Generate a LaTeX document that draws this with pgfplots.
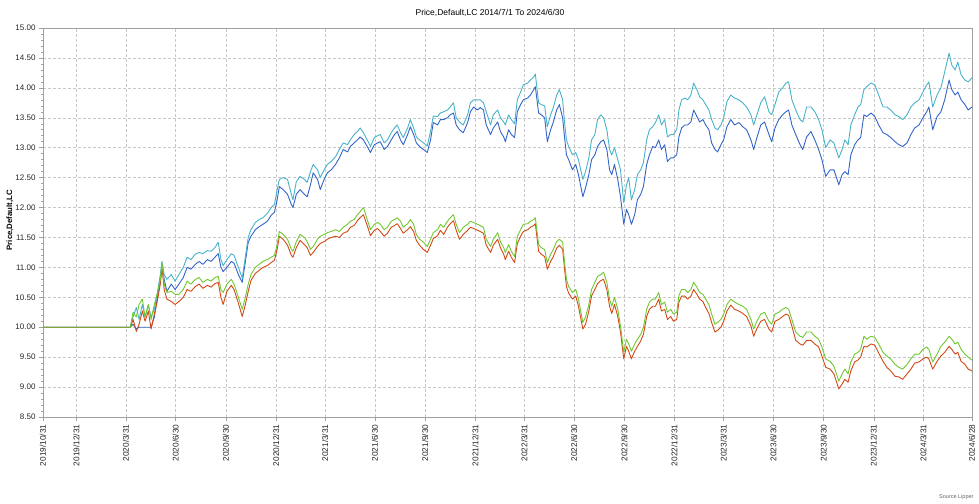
\documentclass[border=0pt]{standalone}
\usepackage{pgfplots}
\pgfplotsset{compat=1.18}
\usepackage{pgfplotstable}
\usepackage{fontspec}
\setmainfont{Liberation Sans}
\definecolor{cDB}{RGB}{50,100,200}
\definecolor{cCY}{RGB}{72,178,200}
\definecolor{cGR}{RGB}{112,200,48}
\definecolor{cRD}{RGB}{212,72,20}
\definecolor{gridc}{RGB}{200,200,200}
\definecolor{axc}{RGB}{160,160,160}

\pgfplotstableread{
day db cy gr rd
0 10.00 10.00 10.00 10.00
160 10.00 10.00 10.00 10.00
165 10.05 10.17 10.25 10.13
171 9.97 10.33 10.17 9.93
176 10.00 10.13 10.38 10.05
182 10.00 10.38 10.47 10.27
187 10.00 10.17 10.17 10.10
193 10.00 10.37 10.38 10.27
198 10.00 10.17 10.13 9.97
204 10.17 10.30 10.38 10.22
209 10.47 10.55 10.55 10.42
215 10.80 10.88 10.80 10.72
218 11.05 11.10 11.08 11.00
222 10.80 10.88 10.72 10.63
227 10.60 10.80 10.58 10.47
235 10.72 10.88 10.60 10.43
242 10.63 10.77 10.55 10.38
249 10.72 10.88 10.55 10.43
257 10.83 11.00 10.63 10.50
264 11.00 11.17 10.77 10.63
271 10.97 11.13 10.72 10.60
279 11.05 11.22 10.80 10.68
286 11.10 11.25 10.83 10.72
293 11.05 11.23 10.75 10.65
301 11.13 11.28 10.80 10.70
308 11.10 11.27 10.77 10.67
315 11.17 11.33 10.83 10.73
321 11.23 11.42 10.85 10.75
326 11.00 11.13 10.63 10.50
330 10.93 11.03 10.58 10.38
337 11.00 11.13 10.72 10.60
345 11.10 11.23 10.80 10.70
350 11.07 11.20 10.72 10.63
358 10.88 11.00 10.50 10.40
365 10.75 10.82 10.30 10.18
370 11.05 11.13 10.47 10.35
376 11.42 11.50 10.72 10.60
381 11.52 11.63 10.88 10.78
389 11.63 11.75 11.00 10.90
396 11.68 11.80 11.05 10.95
403 11.72 11.83 11.10 11.00
411 11.77 11.90 11.13 11.03
418 11.87 12.00 11.17 11.08
424 11.92 12.05 11.20 11.12
429 12.13 12.30 11.38 11.30
433 12.35 12.47 11.60 11.52
440 12.30 12.50 11.55 11.47
448 12.22 12.47 11.47 11.37
455 12.05 12.22 11.30 11.20
458 12.00 12.13 11.27 11.17
464 12.22 12.43 11.43 11.33
471 12.30 12.52 11.55 11.45
479 12.22 12.47 11.50 11.38
484 12.18 12.42 11.43 11.33
490 12.38 12.60 11.30 11.20
495 12.58 12.72 11.35 11.25
503 12.47 12.63 11.47 11.35
508 12.30 12.50 11.52 11.40
515 12.47 12.63 11.55 11.43
521 12.58 12.72 11.58 11.47
528 12.63 12.77 11.60 11.50
536 12.72 12.85 11.63 11.52
543 12.83 12.97 11.60 11.50
550 12.97 13.08 11.67 11.57
558 12.93 13.05 11.72 11.60
563 13.02 13.13 11.77 11.67
570 13.08 13.22 11.80 11.70
576 13.13 13.27 11.88 11.78
581 13.18 13.33 11.93 11.83
587 13.13 13.25 12.00 11.88
594 13.02 13.13 11.80 11.70
600 12.92 13.02 11.63 11.53
607 13.05 13.17 11.72 11.62
613 13.08 13.20 11.75 11.65
618 13.10 13.22 11.72 11.60
625 12.97 13.08 11.63 11.52
631 13.02 13.13 11.67 11.57
638 13.13 13.25 11.77 11.67
644 13.22 13.33 11.80 11.70
649 13.27 13.38 11.83 11.73
655 13.13 13.25 11.77 11.65
660 13.05 13.17 11.67 11.57
668 13.22 13.33 11.73 11.63
673 13.35 13.47 11.80 11.68
679 13.22 13.33 11.72 11.60
684 13.08 13.18 11.55 11.45
690 13.02 13.13 11.47 11.37
697 12.97 13.08 11.42 11.30
704 12.92 13.03 11.35 11.25
710 13.13 13.27 11.47 11.37
715 13.42 13.53 11.58 11.48
723 13.38 13.52 11.63 11.53
728 13.47 13.58 11.72 11.62
734 13.47 13.60 11.67 11.55
741 13.50 13.63 11.77 11.67
746 13.55 13.68 11.83 11.73
752 13.58 13.75 11.88 11.78
757 13.38 13.50 11.72 11.62
763 13.30 13.43 11.58 11.47
770 13.25 13.38 11.67 11.55
778 13.42 13.55 11.72 11.62
783 13.60 13.75 11.77 11.67
789 13.68 13.80 11.75 11.65
796 13.63 13.80 11.72 11.62
801 13.67 13.80 11.70 11.60
807 13.63 13.75 11.67 11.57
812 13.38 13.60 11.47 11.37
820 13.22 13.38 11.35 11.25
825 13.33 13.55 11.47 11.37
833 13.43 13.63 11.58 11.47
838 13.27 13.50 11.43 11.33
844 13.18 13.43 11.33 11.22
847 13.10 13.38 11.25 11.13
853 13.30 13.55 11.38 11.27
858 13.22 13.47 11.27 11.17
864 13.17 13.40 11.18 11.08
869 13.60 13.80 11.52 11.40
875 13.72 13.93 11.63 11.52
880 13.80 14.05 11.72 11.60
888 13.83 14.08 11.73 11.63
893 13.88 14.13 11.77 11.67
899 13.97 14.18 11.80 11.70
902 14.02 14.23 11.83 11.73
908 13.58 13.75 11.38 11.27
913 13.55 13.72 11.33 11.22
919 13.50 13.70 11.30 11.18
924 13.10 13.35 11.08 10.97
930 13.30 13.55 11.22 11.10
935 13.43 13.67 11.30 11.18
941 13.63 13.88 11.43 11.32
946 13.72 13.97 11.47 11.37
952 13.50 13.80 11.42 11.30
955 13.22 13.47 11.13 11.02
959 12.88 13.13 10.80 10.68
963 12.80 13.02 10.68 10.57
970 12.63 12.88 10.58 10.47
976 12.72 12.92 10.63 10.52
981 12.55 12.80 10.47 10.35
989 12.18 12.47 10.08 9.97
994 12.33 12.60 10.17 10.05
1000 12.55 12.83 10.38 10.27
1005 12.80 13.13 10.63 10.52
1011 12.88 13.22 10.75 10.63
1016 13.02 13.47 10.85 10.73
1022 13.10 13.55 10.88 10.78
1027 13.13 13.50 10.92 10.80
1033 12.97 13.30 10.75 10.63
1038 12.63 12.97 10.47 10.35
1042 12.55 12.88 10.35 10.23
1047 12.72 13.00 10.50 10.38
1053 12.47 12.80 10.30 10.18
1058 12.18 12.63 10.02 9.92
1064 11.72 12.08 9.58 9.47
1069 11.97 12.38 9.80 9.68
1073 11.88 12.50 9.72 9.60
1078 11.72 12.13 9.60 9.47
1084 11.88 12.30 9.72 9.60
1089 12.13 12.55 9.80 9.68
1095 12.22 12.63 9.88 9.77
1100 12.35 12.75 10.00 9.88
1106 12.72 13.13 10.30 10.18
1111 12.88 13.30 10.42 10.30
1117 13.02 13.35 10.47 10.35
1122 13.00 13.42 10.47 10.35
1128 13.13 13.55 10.58 10.47
1133 12.97 13.38 10.38 10.27
1139 13.05 13.47 10.42 10.30
1144 12.77 13.18 10.25 10.13
1150 12.83 13.22 10.30 10.18
1155 12.83 13.22 10.22 10.10
1161 12.88 13.30 10.25 10.13
1165 13.18 13.63 10.53 10.42
1170 13.33 13.80 10.63 10.52
1176 13.38 13.83 10.63 10.52
1181 13.38 13.80 10.58 10.47
1187 13.43 13.88 10.63 10.52
1192 13.63 14.08 10.75 10.63
1198 13.52 13.97 10.67 10.55
1203 13.43 13.85 10.58 10.47
1209 13.47 13.80 10.55 10.43
1214 13.38 13.72 10.47 10.33
1220 13.30 13.63 10.38 10.23
1225 13.08 13.47 10.22 10.08
1231 12.97 13.33 10.05 9.92
1236 12.93 13.30 10.08 9.95
1242 13.05 13.38 10.13 10.00
1247 13.13 13.50 10.22 10.10
1253 13.35 13.77 10.38 10.27
1260 13.47 13.88 10.47 10.37
1267 13.38 13.83 10.42 10.30
1275 13.42 13.80 10.38 10.27
1282 13.35 13.75 10.35 10.23
1289 13.30 13.68 10.30 10.18
1297 13.13 13.55 10.13 10.02
1302 12.97 13.38 9.97 9.85
1308 13.17 13.55 10.10 9.98
1315 13.38 13.75 10.22 10.10
1322 13.43 13.85 10.25 10.13
1330 13.22 13.60 10.10 9.97
1335 13.10 13.55 10.05 9.92
1341 13.33 13.72 10.22 10.10
1348 13.47 13.93 10.25 10.13
1355 13.55 14.00 10.30 10.18
1361 13.60 14.08 10.33 10.22
1366 13.63 14.10 10.30 10.20
1372 13.38 13.80 10.13 10.02
1379 13.22 13.63 9.92 9.78
1387 13.05 13.47 9.85 9.72
1392 12.97 13.43 9.83 9.70
1399 13.18 13.68 9.92 9.78
1407 13.27 13.68 9.92 9.78
1414 13.13 13.60 9.85 9.72
1421 12.97 13.47 9.80 9.67
1427 12.80 13.30 9.67 9.52
1434 12.52 13.00 9.47 9.33
1442 12.63 13.13 9.43 9.30
1449 12.63 13.08 9.35 9.22
1458 12.38 12.83 9.10 8.97
1464 12.55 12.97 9.22 9.05
1469 12.60 13.13 9.30 9.13
1475 12.55 13.05 9.22 9.08
1480 12.88 13.38 9.42 9.27
1487 13.05 13.55 9.55 9.42
1493 13.13 13.68 9.58 9.45
1498 13.17 13.72 9.63 9.50
1504 13.55 13.97 9.85 9.68
1509 13.52 14.02 9.80 9.67
1517 13.58 14.08 9.85 9.72
1524 13.52 14.05 9.83 9.70
1531 13.38 13.88 9.72 9.57
1539 13.25 13.68 9.58 9.43
1546 13.22 13.68 9.52 9.33
1553 13.17 13.63 9.47 9.27
1561 13.10 13.55 9.38 9.18
1568 13.05 13.52 9.33 9.17
1575 13.02 13.47 9.30 9.13
1583 13.08 13.55 9.38 9.22
1590 13.22 13.68 9.47 9.30
1597 13.33 13.75 9.55 9.40
1605 13.38 13.80 9.55 9.42
1612 13.50 13.93 9.63 9.47
1619 13.60 14.05 9.67 9.50
1623 13.68 14.10 9.63 9.47
1630 13.30 13.68 9.42 9.30
1638 13.52 13.88 9.55 9.43
1645 13.60 14.00 9.68 9.52
1652 13.80 14.27 9.75 9.58
1660 14.13 14.58 9.85 9.68
1665 13.97 14.38 9.80 9.63
1671 13.88 14.30 9.72 9.55
1676 13.93 14.43 9.75 9.58
1682 13.80 14.22 9.63 9.43
1689 13.72 14.13 9.55 9.38
1695 13.63 14.10 9.50 9.30
1702 13.68 14.17 9.45 9.27
}\prices

\begin{document}
\begin{tikzpicture}
\useasboundingbox (0,0) rectangle (979pt,503pt);
\begin{axis}[
  at={(43pt,86pt)}, anchor=south west,
  scale only axis, width=929pt, height=389pt,
  xmin=0, xmax=1702, ymin=8.5, ymax=15,
  xtick={0,61,152,243,335,427,517,608,700,792,882,973,1065,1157,1247,1338,1430,1522,1613,1702},
  xticklabels={2019/10/31,2019/12/31,2020/3/31,2020/6/30,2020/9/30,2020/12/31,2021/3/31,2021/6/30,2021/9/30,2021/12/31,2022/3/31,2022/6/30,2022/9/30,2022/12/31,2023/3/31,2023/6/30,2023/9/30,2023/12/31,2024/3/31,2024/6/28},
  xticklabel style={rotate=90, anchor=east, font=\fontsize{8.3}{10}\selectfont, text=black!85},
  ytick={8.5,9,9.5,10,10.5,11,11.5,12,12.5,13,13.5,14,14.5,15},
  scaled y ticks=false,
  yticklabel style={/pgf/number format/fixed, /pgf/number format/fixed zerofill, /pgf/number format/precision=2, font=\fontsize{8}{10}\selectfont, text=black!85},
  /pgf/number format/assume math mode=true,
  minor y tick num=4,
  xtick pos=bottom, ytick pos=left,
  tick align=outside,
  major tick length=4pt, minor tick length=2pt,
  every tick/.style={axc, line width=0.5pt},
  axis line style={axc, line width=0.6pt},
  grid=major,
  major grid style={gridc, dash pattern=on 3pt off 2pt, line width=0.5pt},
  ylabel={Price,Default,LC},
  ylabel style={at={(axis description cs:-0.0355,0.506)}, anchor=center, font=\bfseries\fontsize{7.8}{10}\selectfont},
  every axis plot/.append style={line width=0.9pt, line join=round},
]
\addplot[cDB] table[x=day, y=db]{\prices};
\addplot[cCY] table[x=day, y=cy]{\prices};
\addplot[cRD] table[x=day, y=rd]{\prices};
\addplot[cGR] table[x=day, y=gr]{\prices};
\end{axis}
\node[font=\fontsize{8.5}{10}\selectfont, anchor=center] at (490pt,490pt) {Price,Default,LC 2014/7/1 To 2024/6/30};
\node[font=\fontsize{5.5}{6}\selectfont, text=black!60, anchor=east] at (977pt,6pt) {Source Lipper};
\end{tikzpicture}
\end{document}
